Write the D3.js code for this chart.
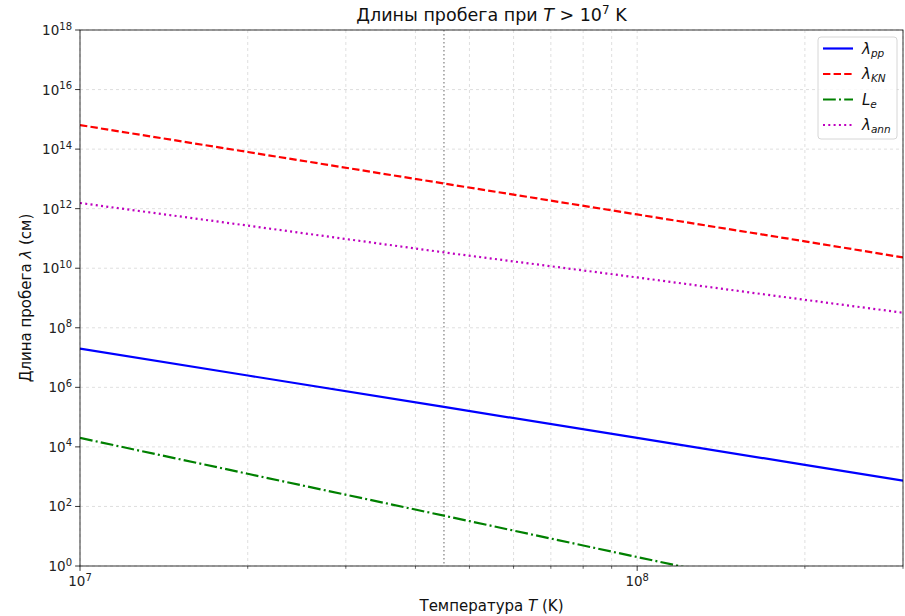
<!DOCTYPE html>
<html>
<head>
<meta charset="utf-8">
<script src="https://cdn.jsdelivr.net/npm/d3@7"></script>
<style>
  body { margin: 0; background: #fff; }
  svg { font-family: "DejaVu Sans", sans-serif; }
</style>
</head>
<body>
<div id="chart"></div>
<script>
var temps = [1e7, 2e7, 4.5e7, 1e8, 2e8, 3e8];
var lambdaPP = [2e7, 2.5e6, 2.2e5, 2e4, 2.5e3, 7.4e2];
var lambdaKN = [6.4e14, 8e13, 7e12, 6.4e11, 8e10, 2.3e10];
var lengthE = [2e4, 1.25e3, 4.9e1, 2, 0.125, 0.025];
var lambdaAnn = [1.55e12, 2.7e11, 3.4e10, 4.9e9, 8.7e8, 3.2e8];
var markerT = 4.5e7;
var yTickExps = [0, 2, 4, 6, 8, 10, 12, 14, 16, 18];
var xMajor = [1e7, 1e8];
var xMinor = [2e7, 3e7, 4e7, 5e7, 6e7, 7e7, 8e7, 9e7, 2e8, 3e8];

var series = [
  { name: 'λ', sub: 'pp', values: lambdaPP, color: '#0000ff', dash: null },
  { name: 'λ', sub: 'KN', values: lambdaKN, color: '#ff0000', dash: '7.4,3.2' },
  { name: 'L', sub: 'e', values: lengthE, color: '#008000', dash: '12.8,3.2,2,3.2' },
  { name: 'λ', sub: 'ann', values: lambdaAnn, color: '#bf00bf', dash: '2,3.3' }
];

var W = 905, H = 616;
var margin = { top: 30, right: 2, bottom: 50, left: 80 };
var width = W - margin.left - margin.right,
    height = H - margin.top - margin.bottom;

var svg = d3.select('#chart').append('svg')
    .attr('width', W).attr('height', H);

var g = svg.append('g')
    .attr('transform', 'translate(' + margin.left + ',' + margin.top + ')');

var x = d3.scaleLog().domain([1e7, 3e8]).range([0, width]);
var y = d3.scaleLog().domain([1, 1e18]).range([height, 0]);

g.append('clipPath').attr('id', 'clip')
  .append('rect').attr('width', width).attr('height', height);

// grid
var grid = g.append('g').attr('class', 'grid')
    .attr('stroke', '#b0b0b0').attr('stroke-opacity', 0.5)
    .attr('stroke-width', 0.8).attr('stroke-dasharray', '3,3');
grid.selectAll('.vg').data(xMajor.concat(xMinor)).enter().append('line')
    .attr('x1', function(d) { return x(d); }).attr('x2', function(d) { return x(d); })
    .attr('y1', 0).attr('y2', height);
grid.selectAll('.hg').data(yTickExps).enter().append('line')
    .attr('y1', function(d) { return y(Math.pow(10, d)); })
    .attr('y2', function(d) { return y(Math.pow(10, d)); })
    .attr('x1', 0).attr('x2', width);

// marker line
g.append('line')
    .attr('x1', x(markerT)).attr('x2', x(markerT))
    .attr('y1', 0).attr('y2', height)
    .attr('stroke', '#999').attr('stroke-width', 1.5)
    .attr('stroke-dasharray', '1.5,2.5');

// series lines
var line = d3.line()
    .x(function(d) { return x(d[0]); })
    .y(function(d) { return y(d[1]); });

var lines = g.append('g').attr('clip-path', 'url(#clip)');
series.forEach(function(s) {
  lines.append('path')
      .datum(d3.zip(temps, s.values))
      .attr('d', line)
      .attr('fill', 'none')
      .attr('stroke', s.color)
      .attr('stroke-width', 2.2)
      .attr('stroke-dasharray', s.dash);
});

// frame
g.append('rect').attr('width', width).attr('height', height)
    .attr('fill', 'none').attr('stroke', '#000').attr('stroke-width', 0.8);

// x ticks
var xt = g.append('g').attr('transform', 'translate(0,' + height + ')');
xt.selectAll('.maj').data(xMajor).enter().append('line')
    .attr('x1', function(d) { return x(d); }).attr('x2', function(d) { return x(d); })
    .attr('y1', 0).attr('y2', 4.9).attr('stroke', '#000').attr('stroke-width', 0.8);
xt.selectAll('.min').data(xMinor).enter().append('line')
    .attr('x1', function(d) { return x(d); }).attr('x2', function(d) { return x(d); })
    .attr('y1', 0).attr('y2', 2.8).attr('stroke', '#000').attr('stroke-width', 0.6);

function powLabel(sel, exp) {
  sel.append('tspan').text('10');
  sel.append('tspan').attr('dy', -5.5).attr('font-size', 10).text(exp);
}

xt.selectAll('.xl').data(xMajor).enter().append('text')
    .attr('x', function(d) { return x(d); })
    .attr('y', 20)
    .attr('text-anchor', 'middle')
    .attr('font-size', 13.5)
    .attr('fill', '#222')
    .each(function(d) { powLabel(d3.select(this), Math.round(Math.log10(d))); });

// y ticks
var yt = g.append('g');
yt.selectAll('.yt').data(yTickExps).enter().append('line')
    .attr('y1', function(d) { return y(Math.pow(10, d)); })
    .attr('y2', function(d) { return y(Math.pow(10, d)); })
    .attr('x1', -4.9).attr('x2', 0).attr('stroke', '#000').attr('stroke-width', 0.8);
yt.selectAll('.yl').data(yTickExps).enter().append('text')
    .attr('x', -8)
    .attr('y', function(d) { return y(Math.pow(10, d)) + 5; })
    .attr('text-anchor', 'end')
    .attr('font-size', 13.5)
    .attr('fill', '#222')
    .each(function(d) { powLabel(d3.select(this), d); });

// title
var title = svg.append('text')
    .attr('x', margin.left + width / 2).attr('y', 21)
    .attr('text-anchor', 'middle').attr('font-size', 17.5).attr('fill', '#111');
title.append('tspan').text('Длины пробега при ');
title.append('tspan').attr('font-style', 'italic').text('T');
title.append('tspan').text(' > 10');
title.append('tspan').attr('dy', -7).attr('font-size', 12).text('7');
title.append('tspan').attr('dy', 7).text(' K');

// axis labels
var xl = svg.append('text')
    .attr('x', margin.left + width / 2).attr('y', 611)
    .attr('text-anchor', 'middle').attr('font-size', 15).attr('fill', '#111');
xl.append('tspan').text('Температура ');
xl.append('tspan').attr('font-style', 'italic').text('T');
xl.append('tspan').text(' (K)');

var yl = svg.append('text')
    .attr('transform', 'translate(31,' + (margin.top + height / 2) + ') rotate(-90)')
    .attr('text-anchor', 'middle').attr('font-size', 15).attr('fill', '#111');
yl.append('tspan').text('Длина пробега ');
yl.append('tspan').attr('font-style', 'italic').text('λ');
yl.append('tspan').text(' (см)');

// legend
var lg = svg.append('g').attr('transform', 'translate(818,37)');
lg.append('rect').attr('width', 79).attr('height', 102).attr('rx', 3)
    .attr('fill', '#fff').attr('fill-opacity', 0.8)
    .attr('stroke', '#ccc').attr('stroke-width', 0.8);
series.forEach(function(s, i) {
  var yy = 11.5 + i * 25.5;
  lg.append('line')
      .attr('x1', 5).attr('x2', 35).attr('y1', yy).attr('y2', yy)
      .attr('stroke', s.color).attr('stroke-width', 2.2)
      .attr('stroke-dasharray', s.dash);
  var t = lg.append('text').attr('x', 44).attr('y', yy + 5)
      .attr('font-size', 15).attr('fill', '#111');
  t.append('tspan').attr('font-style', 'italic').text(s.name);
  t.append('tspan').attr('font-style', 'italic').attr('font-size', 10.5)
      .attr('dy', 3).text(s.sub);
});
</script>
</body>
</html>
